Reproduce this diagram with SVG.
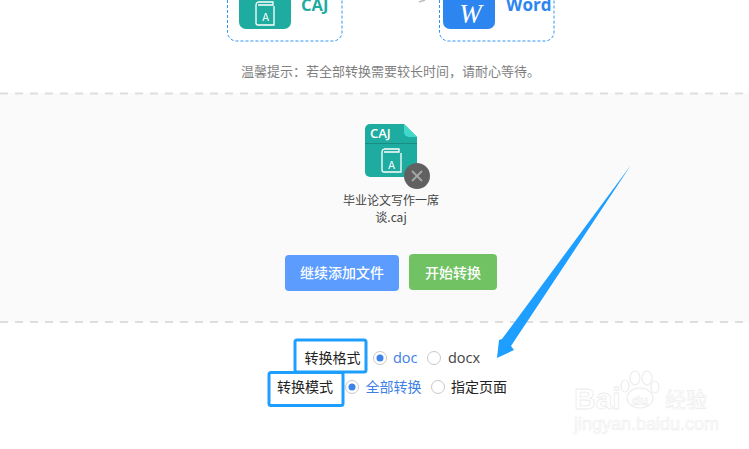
<svg xmlns="http://www.w3.org/2000/svg" width="749" height="449" viewBox="0 0 749 449">
<style>
text{font-family:"Noto Sans CJK SC","Liberation Sans",sans-serif}
.la{font-family:"Open Sans","Noto Sans CJK SC",sans-serif}
.dash{fill:none;stroke:#2f95f5;stroke-width:1;stroke-dasharray:3 2}
.sep{stroke:#dedede;stroke-width:2;stroke-dasharray:8 7}
.box{fill:none;stroke:#1e9fff;stroke-width:3}
.radio{fill:#fff;stroke:#c8c8c8;stroke-width:1}
.ico{fill:none;stroke:#fff;stroke-width:1.300}
</style>
<rect width="749" height="449" fill="#fff"/>
<rect x="0" y="93" width="749" height="229" fill="#fafafa"/>
<line class="sep" x1="0" y1="93.500" x2="749" y2="93.500"/>
<line class="sep" x1="0" y1="322" x2="749" y2="322"/>

<g id="node-caj-type">
<path class="dash" d="M227.500 -5V32a9 9 0 0 0 9 9H333a9 9 0 0 0 9-9V-5"/>
<path d="M239 -5H291V22a7 7 0 0 1-7 7H246a7 7 0 0 1-7-7Z" fill="#1eaba0"/>
<path class="ico" d="M258 2h15v3h-15M256 5a3 3 0 0 1 2-3M256 5v18a2 2 0 0 0 2 2h16V6"/>
<text x="265.500" y="21" font-size="11" fill="#fff" text-anchor="middle">A</text>
<text x="301" y="10.500" font-size="16.500" font-weight="700" fill="#1eaba0" class="la">CAJ</text>
</g>
<path d="M419 2L425 0" stroke="#bbb" stroke-width="1.500" fill="none"/>
<g id="node-word-type">
<path class="dash" d="M439.500 -5V32a9 9 0 0 0 9 9H545a9 9 0 0 0 9-9V-5"/>
<path d="M443 -5H495V22a7 7 0 0 1-7 7H450a7 7 0 0 1-7-7Z" fill="#2d86f0"/>
<text x="470.500" y="23" font-size="27" font-style="italic" fill="#fff" text-anchor="middle" style="font-family:'Liberation Serif',serif">W</text>
<text x="506" y="11" font-size="17" font-weight="700" fill="#2d86f0" class="la">Word</text>
</g>
<text x="390.500" y="76" font-size="13" fill="#7f7f7f" text-anchor="middle">温馨提示：若全部转换需要较长时间，请耐心等待。</text>

<g id="node-file">
<path d="M370 124H404L417 137V172a5 5 0 0 1-5 5H370a5 5 0 0 1-5-5V129a5 5 0 0 1 5-5Z" fill="#1eaba0"/>
<path d="M404 124L417 137H409a5 5 0 0 1-5-5Z" fill="#3fd8c9"/>
<line x1="365" y1="143.500" x2="417" y2="143.500" stroke="#178d84" stroke-width="1"/>
<text x="370" y="138" font-size="13" font-weight="600" fill="#fff" class="la">CAJ</text>
<path class="ico" d="M384 149h15v3h-15M382 152a3 3 0 0 1 2-3M382 152v18a2 2 0 0 0 2 2h17V153"/>
<text x="391.500" y="169" font-size="11" fill="#fff" text-anchor="middle">A</text>
<circle cx="417" cy="176" r="13" fill="#616161"/>
<path d="M412 171l10 10M422 171l-10 10" stroke="#a8a8a8" stroke-width="1.800"/>
<text x="391" y="205" font-size="12" fill="#444" text-anchor="middle">毕业论文写作一席</text>
<text x="391" y="222" font-size="12" fill="#444" text-anchor="middle">谈.caj</text>
</g>

<g id="node-add">
<rect x="285" y="255" width="114" height="36" rx="4" fill="#5c9cff"/>
<text x="342" y="278" font-size="14" font-weight="500" fill="#fff" text-anchor="middle">继续添加文件</text>
</g>
<g id="node-start">
<rect x="409" y="254" width="88" height="36" rx="4" fill="#70c262"/>
<text x="453" y="278" font-size="14" font-weight="500" fill="#fff" text-anchor="middle">开始转换</text>
</g>

<g id="node-format">
<rect class="box" x="295" y="340" width="71" height="32" rx="2"/>
<text x="332.500" y="363" font-size="14" fill="#222" text-anchor="middle">转换格式</text>
<circle class="radio" cx="380" cy="358" r="6.500"/>
<circle cx="380" cy="358" r="3.500" fill="#3d82ea"/>
<text x="393" y="363" font-size="14.500" fill="#3d7fe6" class="la">doc</text>
<circle class="radio" cx="434" cy="358" r="6.500"/>
<text x="448" y="363" font-size="14.500" fill="#444" class="la">docx</text>
</g>
<g id="node-mode">
<rect class="box" x="269" y="372.500" width="74" height="33" rx="2"/>
<text x="305" y="392" font-size="14" fill="#222" text-anchor="middle">转换模式</text>
<circle class="radio" cx="352" cy="387" r="6.500"/>
<circle cx="352" cy="387" r="3.500" fill="#3d82ea"/>
<text x="365.500" y="392" font-size="14" fill="#3d7fe6">全部转换</text>
<circle class="radio" cx="438" cy="387" r="6.500"/>
<text x="451" y="392" font-size="14" fill="#222">指定页面</text>
</g>

<g id="connectors">
<path d="M631 165L511 346L514 350L497 358L499 340L502 339Z" fill="#1e9fff"/>
</g>

<g id="watermark" fill="none" stroke="#ececec" stroke-width="1.200">
<ellipse cx="640" cy="398" rx="13" ry="10"/>
<ellipse cx="635" cy="378" rx="5" ry="7"/><ellipse cx="647" cy="378" rx="5" ry="7"/><ellipse cx="625" cy="386" rx="4" ry="6"/><ellipse cx="655" cy="387" rx="4" ry="6"/>
<text x="574" y="409" font-size="30" font-weight="700" fill="#fff" stroke="#ececec" stroke-width="0.800" style="font-family:'Liberation Sans',sans-serif">Bai</text>
<text x="632" y="405" font-size="13" font-weight="700" fill="#fff" stroke="#ececec" stroke-width="0.700" style="font-family:'Liberation Sans',sans-serif">du</text>
<text x="665" y="407" font-size="21" fill="#fff" stroke="#ececec" stroke-width="0.600">经验</text>
<text x="574" y="430" font-size="18" fill="#fff" stroke="#eeeeee" stroke-width="0.600" style="font-family:'Liberation Sans',sans-serif">jingyan.baidu.com</text>
</g>
</svg>
